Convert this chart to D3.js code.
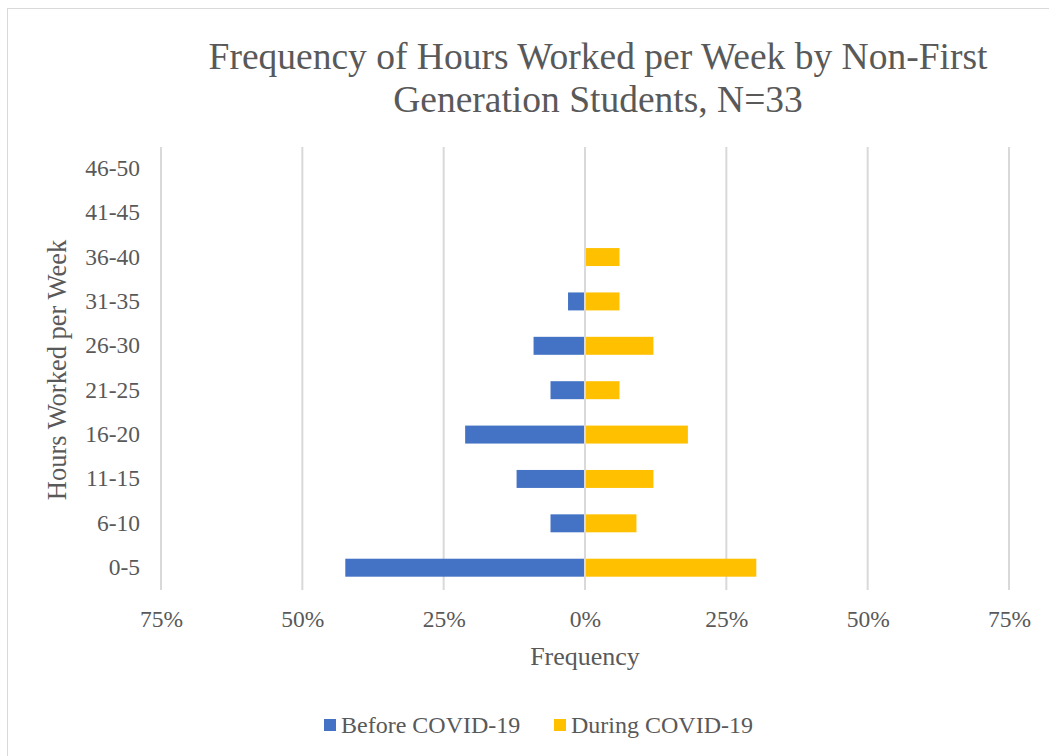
<!DOCTYPE html>
<html>
<head>
<meta charset="utf-8">
<script src="https://cdn.jsdelivr.net/npm/d3@7"></script>
<style>
  body { margin: 0; background: #fff; }
</style>
</head>
<body>
<div id="chart"></div>
<script>
const categories = ["0-5", "6-10", "11-15", "16-20", "21-25", "26-30", "31-35", "36-40", "41-45", "46-50"];
const beforeCovid = [0.424, 0.061, 0.121, 0.212, 0.061, 0.091, 0.030, 0, 0, 0];
const duringCovid = [0.303, 0.091, 0.121, 0.182, 0.061, 0.121, 0.061, 0.061, 0, 0];
const xTicks = [-0.75, -0.5, -0.25, 0, 0.25, 0.5, 0.75];
const seriesNames = ["Before COVID-19", "During COVID-19"];
const colors = ["#4472c4", "#ffc000"];

const FONT = "Liberation Serif";
const TEXT = "#595959";
const width = 1049, height = 756;
const margin = { top: 146, right: 40, bottom: 166, left: 161 };

const svg = d3.select("#chart").append("svg")
  .attr("width", width)
  .attr("height", height)
  .attr("font-family", FONT);

// chart frame
svg.append("rect")
  .attr("x", 7.5).attr("y", 8.5)
  .attr("width", width).attr("height", height)
  .attr("fill", "#fff")
  .attr("stroke", "#d9d9d9");

const x = d3.scaleLinear()
  .domain([-0.75, 0.75])
  .range([161, 1009]);

const y = d3.scaleBand()
  .domain(categories.slice().reverse())
  .range([margin.top, height - margin.bottom])
  .paddingInner(0.595)
  .paddingOuter(0.3);

// gridlines
svg.append("g")
  .selectAll("line")
  .data(xTicks)
  .enter().append("line")
  .attr("x1", d => x(d)).attr("x2", d => x(d))
  .attr("y1", 147).attr("y2", 590)
  .attr("stroke", "#d9d9d9")
  .attr("stroke-width", 2);

// bars
const rows = categories.map((c, i) => ({ cat: c, before: beforeCovid[i], during: duringCovid[i] }));

svg.append("g")
  .selectAll("rect")
  .data(rows.filter(d => d.before > 0))
  .enter().append("rect")
  .attr("x", d => x(-d.before))
  .attr("y", d => y(d.cat))
  .attr("width", d => x(0) - 1 - x(-d.before))
  .attr("height", y.bandwidth())
  .attr("fill", colors[0]);

svg.append("g")
  .selectAll("rect")
  .data(rows.filter(d => d.during > 0))
  .enter().append("rect")
  .attr("x", x(0) + 1)
  .attr("y", d => y(d.cat))
  .attr("width", d => x(d.during) - x(0) - 1)
  .attr("height", y.bandwidth())
  .attr("fill", colors[1]);

// x axis labels
const xAxis = d3.axisBottom(x)
  .tickValues(xTicks)
  .tickSize(0)
  .tickPadding(0)
  .tickFormat(d => d3.format(".0%")(Math.abs(d)));

svg.append("g")
  .attr("transform", "translate(0,610)")
  .call(xAxis)
  .call(g => g.select(".domain").remove())
  .attr("font-family", FONT)
  .attr("font-size", 23.5)
  .selectAll("text")
  .attr("fill", TEXT);

// y axis labels
const yAxis = d3.axisLeft(y).tickSize(0).tickPadding(0);
svg.append("g")
  .attr("transform", "translate(140,0)")
  .call(yAxis)
  .call(g => g.select(".domain").remove())
  .attr("font-family", FONT)
  .attr("font-size", 23.5)
  .selectAll("text")
  .attr("fill", TEXT);

// title
const title = svg.append("text")
  .attr("text-anchor", "middle")
  .attr("fill", TEXT)
  .attr("font-size", 37.5);
title.append("tspan").attr("x", 598).attr("y", 69).text("Frequency of Hours Worked per Week by Non-First");
title.append("tspan").attr("x", 598).attr("y", 112).text("Generation Students, N=33");

// axis titles
svg.append("text")
  .attr("x", 585).attr("y", 665)
  .attr("text-anchor", "middle")
  .attr("fill", TEXT)
  .attr("font-size", 26)
  .text("Frequency");

svg.append("text")
  .attr("transform", "translate(66,370) rotate(-90)")
  .attr("text-anchor", "middle")
  .attr("fill", TEXT)
  .attr("font-size", 26.5)
  .text("Hours Worked per Week");

// legend
const legend = svg.append("g").attr("transform", "translate(324,733)");
const legendX = [0, 230];
seriesNames.forEach((name, i) => {
  const g = legend.append("g").attr("transform", `translate(${legendX[i]},0)`);
  g.append("rect").attr("x", 0).attr("y", -14).attr("width", 12).attr("height", 12).attr("fill", colors[i]);
  g.append("text").attr("x", 17).attr("y", 0)
    .attr("fill", TEXT).attr("font-size", 24).text(name);
});
</script>
</body>
</html>
